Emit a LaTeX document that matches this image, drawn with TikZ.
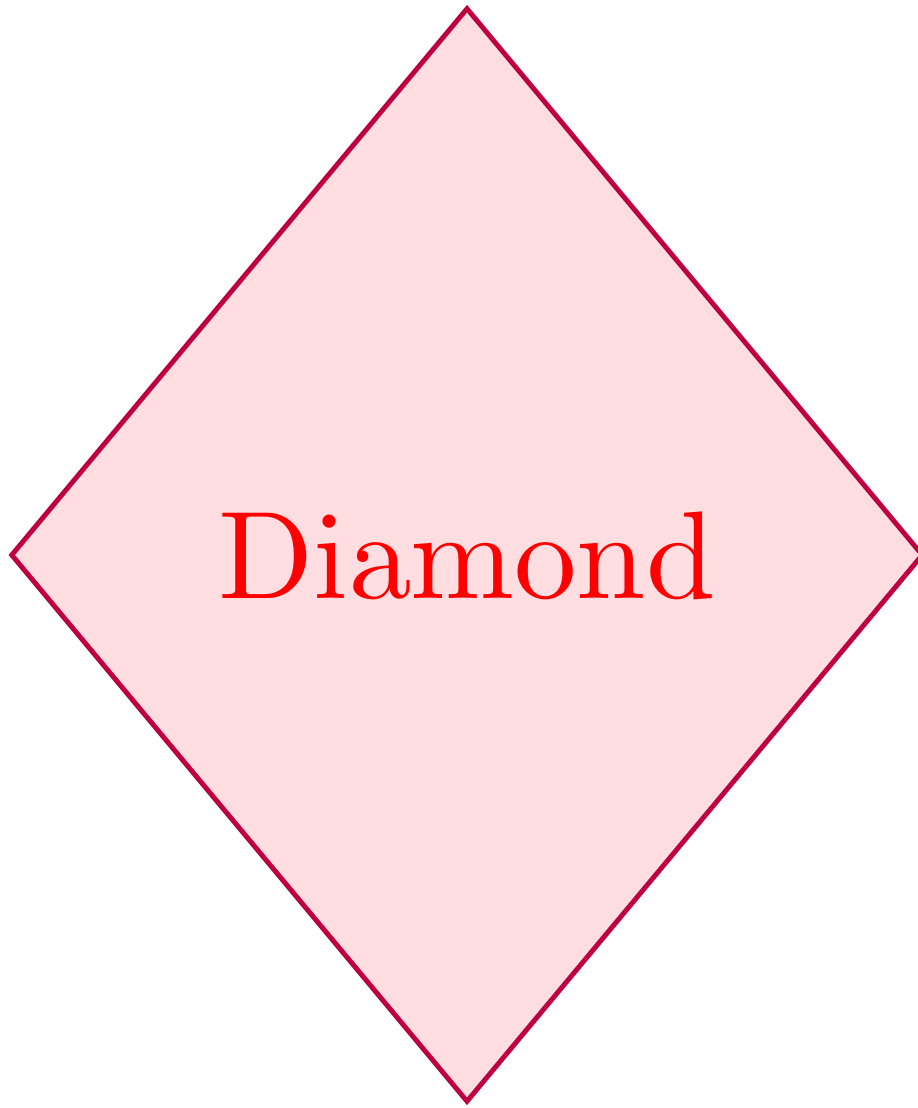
\documentclass[tikz,border=0pt]{standalone}
\usetikzlibrary{shapes.geometric}
\definecolor{dborder}{RGB}{191,0,64}
\definecolor{dfill}{RGB}{255,221,224}
\font\diamondfont=cmr10 at 35.5pt
\tikzset{diamondbox/.style={diamond, draw=dborder, fill=dfill, line width=1.4pt,
  inner sep=0pt, minimum width=9.12cm, minimum height=10.94cm, text=red,
  font=\diamondfont}}
\begin{document}
\begin{tikzpicture}[x=0.01cm,y=0.01cm]
\useasboundingbox (0,0) rectangle (917,1108);
\node[diamondbox] (d) at (467,553) {Diamond};
\end{tikzpicture}
\end{document}
